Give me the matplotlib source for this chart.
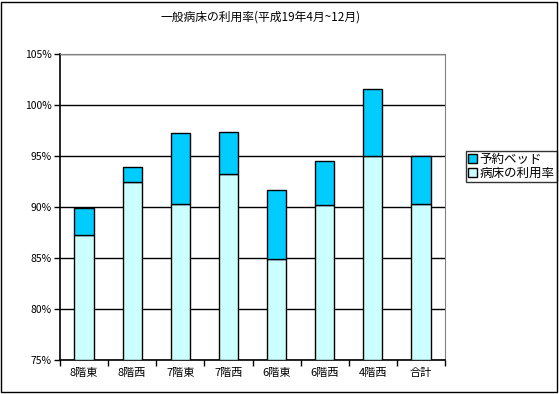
import numpy as np
import matplotlib
matplotlib.use("Agg")
import matplotlib.pyplot as plt
from matplotlib.ticker import FuncFormatter, MultipleLocator

plt.rcParams['font.family'] = ['Noto Sans CJK JP', 'DejaVu Sans']

# data
wards = ['8階東', '8階西', '7階東', '7階西', '6階東', '6階西', '4階西', '合計']
utilization = [87.2, 92.4, 90.3, 93.2, 84.85, 90.2, 95.0, 90.3]   # 病床の利用率
reserved = [2.65, 1.5, 6.9, 4.1, 6.75, 4.3, 6.5, 4.7]            # 予約ベッド (stacked on top)

base = 75

fig = plt.figure(figsize=(5.59, 3.94), dpi=100)
ax = fig.add_axes([60 / 559, 1 - 360 / 394, 385 / 559, 306.5 / 394])

x = np.arange(len(wards))
width = 0.4
b1 = ax.bar(x, np.array(utilization) - base, width, bottom=base,
            color='#CCFFFF', edgecolor='black', linewidth=1.0, label='病床の利用率', zorder=3)
b2 = ax.bar(x, reserved, width, bottom=utilization,
            color='#00CCFF', edgecolor='black', linewidth=1.0, label='予約ベッド', zorder=3)

ax.set_ylim(75, 105)
ax.set_xlim(-0.5, len(wards) - 0.5)
ax.yaxis.set_major_locator(MultipleLocator(5))
ax.yaxis.set_major_formatter(FuncFormatter(lambda v, p: f'{v:.0f}%'))
ax.grid(axis='y', color='black', linewidth=1.0, zorder=0)

ax.set_xticks(x)
ax.set_xticklabels(wards)
ax.set_xticks(np.arange(len(wards) + 1) - 0.5, minor=True)
ax.tick_params(axis='x', which='major', length=0, pad=6, labelsize=8)
ax.tick_params(axis='x', which='minor', length=4, direction='out', width=1)
ax.tick_params(axis='y', length=4, direction='out', width=1, labelsize=7.5, pad=2)

for s in ['top', 'right']:
    ax.spines[s].set_color('#808080')
for s in ['left', 'bottom']:
    ax.spines[s].set_color('black')
    ax.spines[s].set_linewidth(1.2)

fig.text(261 / 559, 1 - 17 / 394, '一般病床の利用率(平成19年4月~12月)',
         ha='center', va='center', fontsize=8.5)

leg = ax.legend(handles=[b2, b1], loc='upper left',
                bbox_to_anchor=(466 / 559, 1 - 183 / 394, 91 / 559, 32 / 394),
                bbox_transform=fig.transFigure, mode='expand', fontsize=9,
                frameon=True, fancybox=False, edgecolor='black', handlelength=0.7,
                handleheight=0.7, handletextpad=0.2, borderpad=0.15, labelspacing=0.1,
                borderaxespad=0)
leg.get_frame().set_linewidth(1.0)

# outer chart border
fig.patches.append(plt.Rectangle((0.002, 0.004), 0.994, 0.992, transform=fig.transFigure,
                                 fill=False, edgecolor='black', linewidth=1.0))

fig.savefig('out.png', dpi=100)
